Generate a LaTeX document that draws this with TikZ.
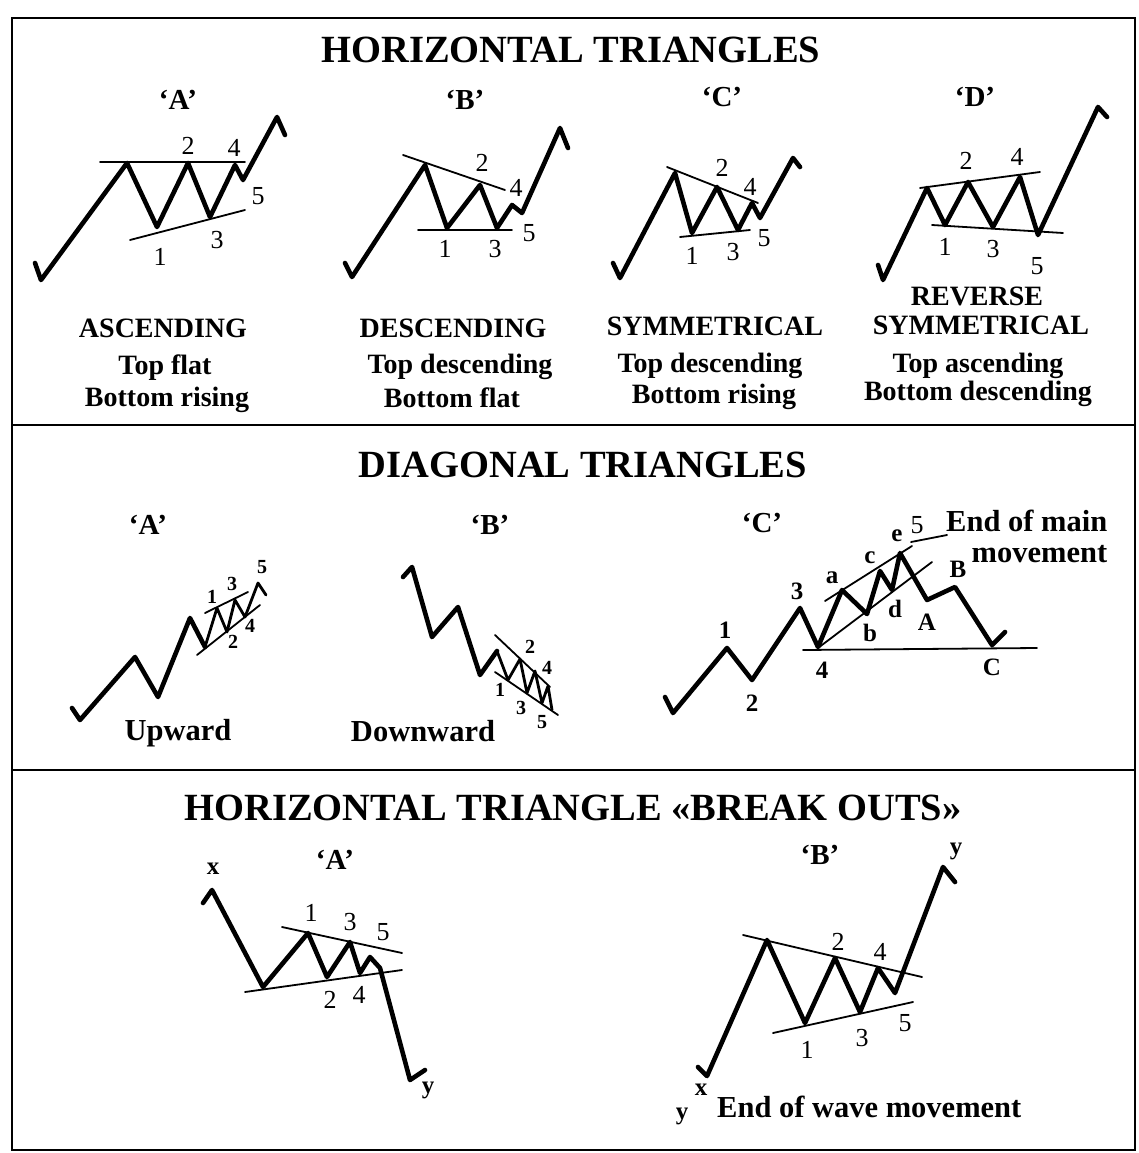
\documentclass[tikz,border=0pt]{standalone}
\usepackage{fontspec}
\setmainfont{Liberation Serif}
\newcommand\myfs[1]{\fontsize{#1}{#1}\selectfont}
\tikzset{
  wave/.style={line width=4.6pt, line join=round, line cap=round},
  thinwave/.style={line width=2.8pt, line join=round, line cap=round},
  trend/.style={line width=1.8pt, line cap=round},
  framel/.style={line width=2.6pt},
  ttl/.style={font=\myfs{38.5}\bfseries, inner sep=0pt},
  qlbl/.style={font=\myfs{29}\bfseries, inner sep=0pt},
  captxt/.style={font=\myfs{28}\bfseries, inner sep=0pt},
  num/.style={font=\myfs{26}, inner sep=0pt},
  bnum/.style={font=\myfs{25}\bfseries, inner sep=0pt},
  snum/.style={font=\myfs{20}\bfseries, inner sep=0pt},
  word/.style={font=\myfs{30.5}\bfseries, inner sep=0pt},
}
\begin{document}
\begin{tikzpicture}[x=1pt,y=-1pt]
\useasboundingbox (0,0) rectangle (1138,1153);
\fill[white] (0,0) rectangle (1138,1153);
% frame
\draw[framel] (12,18) rectangle (1135,1150);
\draw[framel] (12,425) -- (1135,425);
\draw[framel] (12,770) -- (1135,770);

% ================= TOP PANEL =================
\node[ttl] (t1) at (571,50) {HORIZONTAL TRIANGLES};
\node[qlbl] (qa1) at (178,100) {`A'};
\node[qlbl] (qb1) at (465,100) {`B'};
\node[qlbl] (qc1) at (722,97) {`C'};
\node[qlbl] (qd1) at (975,97) {`D'};

% A ascending
\draw[wave] (35,263) -- (41,280) -- (127,163) -- (157,227) -- (188,163) -- (210,217) -- (235,165) -- (243,180) -- (277,117) -- (285,135);
\draw[trend] (100,162) -- (245,162);
\draw[trend] (130,240) -- (245,210);
\node[num] (a2) at (188,146) {2};
\node[num] (a4) at (234,148) {4};
\node[num] (a5) at (258,196) {5};
\node[num] (a1) at (160,257) {1};
\node[num] (a3) at (217,240) {3};

% B descending
\draw[wave] (345,263) -- (352,277) -- (425,165) -- (447,228) -- (480,185) -- (497,228) -- (512,205) -- (522,213) -- (560,128) -- (568,148);
\draw[trend] (403,155) -- (505,190);
\draw[trend] (418,230) -- (512,230);
\node[num] (b2) at (482,163) {2};
\node[num] (b4) at (516,188) {4};
\node[num] (b5) at (529,233) {5};
\node[num] (b1) at (445,249) {1};
\node[num] (b3) at (495,249) {3};

% C symmetrical
\draw[wave] (613,263) -- (620,278) -- (675,173) -- (692,233) -- (717,187) -- (738,230) -- (752,203) -- (760,218) -- (793,158) -- (800,167);
\draw[trend] (667,167) -- (758,203);
\draw[trend] (680,237) -- (750,230);
\node[num] (c2) at (722,168) {2};
\node[num] (c4) at (750,187) {4};
\node[num] (c5) at (764,238) {5};
\node[num] (c1) at (692,256) {1};
\node[num] (c3) at (733,252) {3};

% D reverse symmetrical
\draw[wave] (878,265) -- (883,280) -- (927,188) -- (945,225) -- (968,182) -- (993,227) -- (1020,177) -- (1038,235) -- (1098,107) -- (1107,117);
\draw[trend] (920,188) -- (1040,172);
\draw[trend] (932,225) -- (1063,233);
\node[num] (d2) at (966,161) {2};
\node[num] (d4) at (1017,157) {4};
\node[num] (d1) at (945,247) {1};
\node[num] (d3) at (993,249) {3};
\node[num] (d5) at (1037,266) {5};

% captions
\node[captxt] (ca1) at (163,328) {ASCENDING};
\node[captxt] (ca2) at (165,368) {Top flat};
\node[captxt] (ca3) at (167,400) {Bottom rising};
\node[captxt] (cb1) at (453,328) {DESCENDING};
\node[captxt] (cb2) at (460,367) {Top descending};
\node[captxt] (cb3) at (452,398) {Bottom flat};
\node[captxt] (cc1) at (715,326) {SYMMETRICAL};
\node[captxt] (cc2) at (710,366) {Top descending};
\node[captxt] (cc3) at (714,397) {Bottom rising};
\node[captxt] (cd0) at (977,296) {REVERSE};
\node[captxt] (cd1) at (981,325) {SYMMETRICAL};
\node[captxt] (cd2) at (978,366) {Top ascending};
\node[captxt] (cd3) at (978,394) {Bottom descending};

% ================= MIDDLE PANEL =================
\node[ttl] (t2) at (583,465) {DIAGONAL TRIANGLES};
\node[qlbl] (qa2) at (148,525) {`A'};
\node[qlbl] (qb2) at (490,525) {`B'};
\node[qlbl] (qc2) at (762,523) {`C'};

% diag A upward
\draw[wave] (72,708) -- (80,720) -- (135,657) -- (158,697) -- (190,618) -- (205,647);
\draw[thinwave] (205,647) -- (217,608) -- (227,632) -- (235,600) -- (245,617) -- (258,583) -- (266,595);
\draw[trend] (205,613) -- (248,592);
\draw[trend] (197,655) -- (260,605);
\node[snum] (da1) at (212,597) {1};
\node[snum] (da3) at (232,584) {3};
\node[snum] (da5) at (262,567) {5};
\node[snum] (da2) at (233,642) {2};
\node[snum] (da4) at (250,626) {4};
\node[word] (up) at (178,733) {Upward};

% diag B downward
\draw[wave] (403,577) -- (412,567) -- (432,637) -- (458,607) -- (480,675) -- (497,651);
\draw[thinwave] (497,651) -- (508,680) -- (520,659) -- (527,693) -- (535,671) -- (542,703) -- (548,686) -- (552,710);
\draw[trend] (495,635) -- (550,687);
\draw[trend] (495,672) -- (558,715);
\node[snum] (db2) at (530,647) {2};
\node[snum] (db4) at (547,668) {4};
\node[snum] (db1) at (500,690) {1};
\node[snum] (db3) at (521,708) {3};
\node[snum] (db5) at (542,722) {5};
\node[word] (down) at (423,731) {Downward};

% diag C
\draw[wave] (665,697) -- (673,713) -- (727,648) -- (752,680) -- (800,608) -- (818,647) -- (842,590) -- (867,614) -- (880,571) -- (892,590) -- (900,553) -- (927,600) -- (955,587) -- (992,645) -- (1005,632);
\draw[trend] (803,650) -- (1037,648);
\draw[trend] (825,601) -- (912,546);
\draw[trend] (818,648) -- (932,562);
\node[bnum] (dc1) at (725,630) {1};
\node[bnum] (dc2) at (752,703) {2};
\node[bnum] (dc3) at (797,591) {3};
\node[bnum] (dc4) at (822,670) {4};
\node[bnum] (dca) at (832,578) {a};
\node[bnum] (dcb) at (870,633) {b};
\node[bnum] (dcc) at (870,558) {c};
\node[bnum] (dcd) at (895,609) {d};
\node[bnum] (dce) at (897,536) {e};
\node[bnum] (dcA) at (927,622) {A};
\node[bnum] (dcB) at (958,569) {B};
\node[bnum] (dcC) at (992,667) {C};
\node[num] (dc5) at (917,525) {5};
\coordinate (lead) at (911,542);
\node[word, align=right, anchor=north west] (endm) at (946,510) {End of main\\movement};
\coordinate (leadend) at (947,535);
\draw[trend] (lead) -- (leadend);

% ================= BOTTOM PANEL =================
\node[ttl] (t3) at (573,808) {HORIZONTAL TRIANGLE «BREAK OUTS»};

% break out A
\node[qlbl] (qa3) at (335,860) {`A'};
\draw[wave] (203,903) -- (212,890) -- (263,987) -- (308,933) -- (327,977) -- (350,942) -- (360,973) -- (370,957) -- (380,968) -- (410,1080) -- (425,1070);
\draw[trend] (282,927) -- (402,953);
\draw[trend] (245,992) -- (402,970);
\node[bnum] (xa) at (213,869) {x};
\node[num] (ba1) at (311,913) {1};
\node[num] (ba3) at (350,922) {3};
\node[num] (ba5) at (383,932) {5};
\node[num] (ba2) at (330,1000) {2};
\node[num] (ba4) at (359,995) {4};
\node[bnum] (ya) at (428,1090) {y};

% break out B
\node[qlbl] (qb3) at (820,855) {`B'};
\draw[wave] (698,1067) -- (707,1076) -- (767,940) -- (805,1023) -- (835,958) -- (860,1012) -- (878,968) -- (895,993) -- (943,867) -- (955,882);
\draw[trend] (743,935) -- (922,977);
\draw[trend] (773,1033) -- (913,1002);
\node[bnum] (yb1) at (956,851) {y};
\node[num] (bb2) at (838,942) {2};
\node[num] (bb4) at (880,952) {4};
\node[num] (bb1) at (807,1050) {1};
\node[num] (bb3) at (862,1038) {3};
\node[num] (bb5) at (905,1023) {5};
\node[bnum] (xb) at (701,1090) {x};
\node[bnum] (yb2) at (682,1116) {y};
\node[word, anchor=west] (endw) at (717,1107) {End of wave movement};
\end{tikzpicture}
\end{document}
